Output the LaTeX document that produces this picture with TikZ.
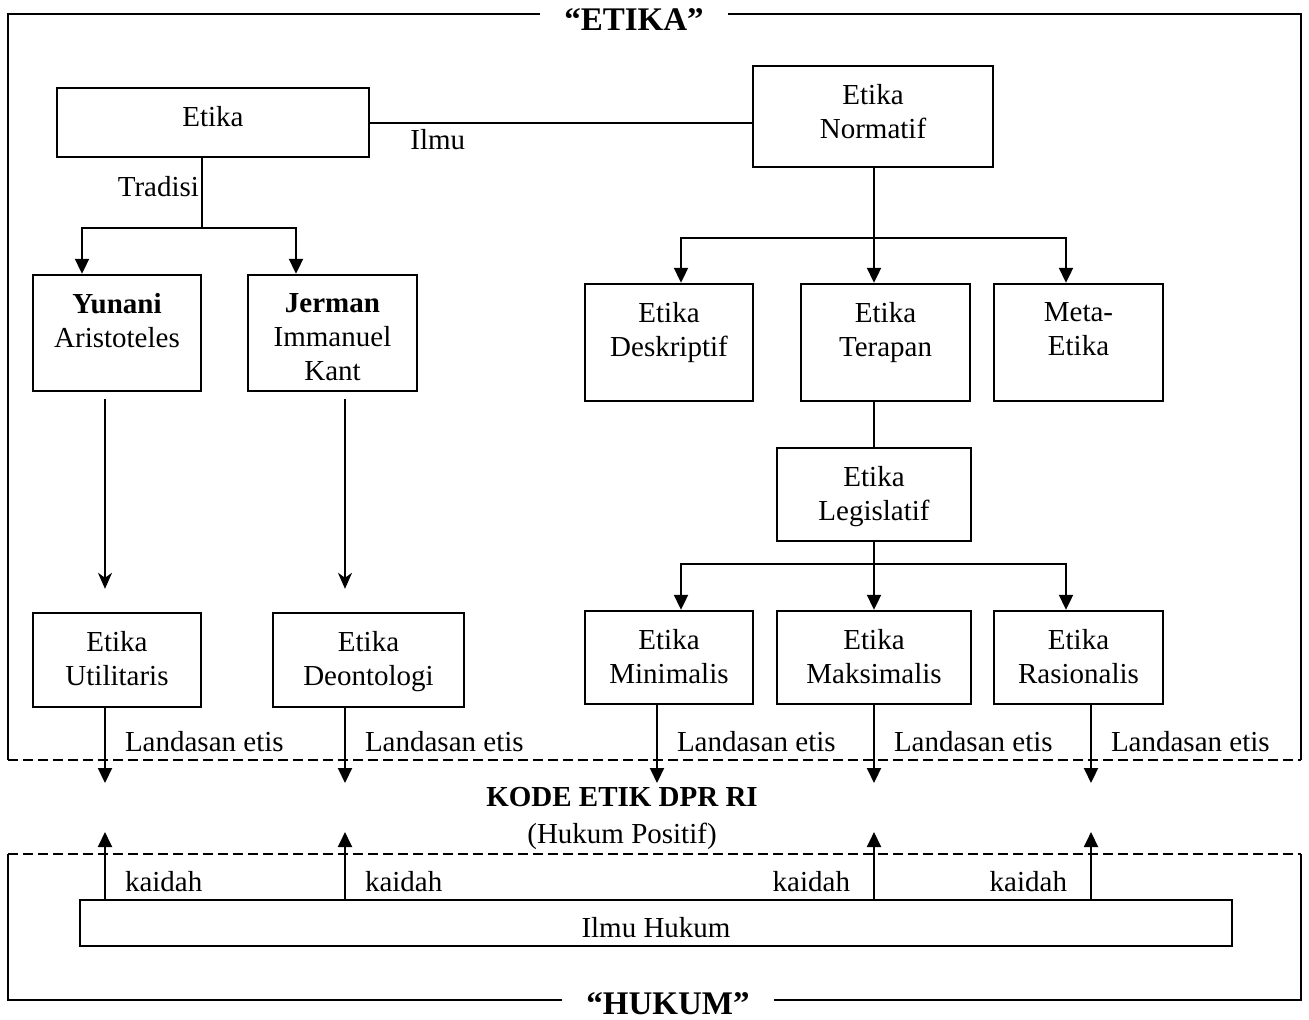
\documentclass[tikz,border=0pt]{standalone}
\usepackage{fontspec}
\setmainfont{Liberation Serif}
\usetikzlibrary{arrows.meta, positioning, calc}

\begin{document}
\begin{tikzpicture}[x=0.5pt, y=-0.5pt, line width=1pt,
  every node/.style={font=\fontsize{14.5}{17}\selectfont},
  box/.style={draw, line width=1.2pt, inner sep=0pt},
  txt/.style={align=center, inner sep=0pt},
  judul/.style={font=\fontsize{16.5}{19}\selectfont\bfseries, fill=white, inner xsep=12pt},
  garis/.style={dash pattern=on 5pt off 2.5pt},
  arr/.style={-{Triangle[length=7.5pt, width=7pt]}},
  panah/.style={-{Stealth[length=8pt, width=7pt, inset=2.5pt]}}]
  \useasboundingbox (0,0) rectangle (1309,1019);

  % bingkai etika dan hukum
  \draw (8,760) -- (8,14) -- (1301,14) -- (1301,760);
  \draw[garis] (8,760) -- (1301,760);
  \draw (8,854) -- (8,1000) -- (1301,1000) -- (1301,854);
  \draw[garis] (8,854) -- (1301,854);
  \node[judul] (judul-etika) at (634,20) {“ETIKA”};
  \node[judul] (judul-hukum) at (668,1004) {“HUKUM”};

  % kotak
  \node[box, minimum width=156pt, minimum height=34.5pt] (etika) at (213,122.5) {};
  \node[box, minimum width=120pt, minimum height=50.5pt] (normatif) at (873,116.5) {};
  \node[box, minimum width=84pt, minimum height=58pt] (yunani) at (117,333) {};
  \node[box, minimum width=84.5pt, minimum height=58pt] (jerman) at (332.5,333) {};
  \node[box, minimum width=84pt, minimum height=47pt] (util) at (117,660) {};
  \node[box, minimum width=95.5pt, minimum height=47pt] (deon) at (368.5,660) {};
  \node[box, minimum width=84pt, minimum height=58.5pt] (deskr) at (669,342.5) {};
  \node[box, minimum width=84.5pt, minimum height=58.5pt] (terapan) at (885.5,342.5) {};
  \node[box, minimum width=84.5pt, minimum height=58.5pt] (meta) at (1078.5,342.5) {};
  \node[box, minimum width=97pt, minimum height=46.5pt] (legis) at (874,494.5) {};
  \node[box, minimum width=84pt, minimum height=46.5pt] (mini) at (669,657.5) {};
  \node[box, minimum width=97pt, minimum height=46.5pt] (maks) at (874,657.5) {};
  \node[box, minimum width=84.5pt, minimum height=46.5pt] (rasio) at (1078.5,657.5) {};
  \node[box, minimum width=576pt, minimum height=23pt] (ilmuhukum) at (656,923) {};

  % isi kotak
  \foreach \n/\t in {etika/Etika, normatif/{Etika\\Normatif},
      yunani/{\textbf{Yunani}\\Aristoteles}, jerman/{\textbf{Jerman}\\Immanuel\\Kant},
      util/{Etika\\Utilitaris}, deon/{Etika\\Deontologi},
      deskr/{Etika\\Deskriptif}, terapan/{Etika\\Terapan}, meta/{Meta-\\Etika},
      legis/{Etika\\Legislatif}, mini/{Etika\\Minimalis},
      maks/{Etika\\Maksimalis}, rasio/{Etika\\Rasionalis}}
    \node[txt, below=9.4pt of \n.north] (\n-t) {\t};
  \node[txt, below=9pt of ilmuhukum.north] (ilmuhukum-t) {Ilmu Hukum};

  \node[align=center, inner sep=0pt] (kode) at (622,818)
    {\textbf{KODE ETIK DPR RI}\\[1.5pt](Hukum Positif)};

  % cabang kiri
  \draw (etika.east) -- node[pos=0.177, below=3pt, inner sep=0pt] (ilmu) {Ilmu}
    (etika.east -| normatif.west);
  \coordinate (trad) at (202,228);
  \draw (etika.south -| trad) -- node[pos=0.4, left, inner sep=1pt] (tradisi) {Tradisi} (trad);
  \draw[arr] (trad) -| ($(yunani.north)+(-35,0)$);
  \draw[arr] (trad) -| ($(jerman.north)+(-36.5,0)$);
  \draw[panah] ($(yunani.south)+(-12,7)$) -- ($(util.north)+(-12,-23)$);
  \draw[panah] ($(jerman.south)+(12.5,7)$) -- ($(deon.north)+(-23.5,-23)$);

  % cabang kanan
  \coordinate (cab1) at (874,238);
  \draw (normatif.south -| cab1) -- (cab1);
  \draw[arr] (cab1) -| ($(deskr.north)+(12,0)$);
  \draw[arr] (cab1) -- (cab1 |- terapan.north);
  \draw[arr] (cab1) -| ($(meta.north)+(-12.5,0)$);
  \draw (terapan.south -| cab1) -- (legis.north);
  \coordinate (cab2) at (874,564);
  \draw (legis.south) -- (cab2);
  \draw[arr] (cab2) -| ($(mini.north)+(12,0)$);
  \draw[arr] (cab2) -- (maks.north);
  \draw[arr] (cab2) -| ($(rasio.north)+(-12.5,0)$);

  % landasan etis
  \coordinate (lnd) at (0,783);
  \coordinate (lndtxt) at (0,742);
  \foreach \b/\dx in {util/-12, deon/-23.5, mini/-12, maks/0, rasio/12.5} {
    \coordinate (x-\b) at ($(\b.south)+(\dx,0)$);
    \draw[arr] (x-\b) -- (x-\b |- lnd);
    \node[anchor=west, inner sep=0pt, xshift=9.5pt] (lnd-\b) at (x-\b |- lndtxt) {Landasan etis};
  }

  % kaidah
  \coordinate (kdh) at (0,832);
  \foreach \b/\anc/\gap in {util/west/9.5pt, deon/west/9.5pt, maks/east/-11.5pt, rasio/east/-11.5pt}
    \draw[arr] (ilmuhukum.north -| x-\b) -- node[pos=0.265, anchor=\anc, xshift=\gap, inner sep=0pt] (kdh-\b) {kaidah} (x-\b |- kdh);
\end{tikzpicture}
\end{document}
